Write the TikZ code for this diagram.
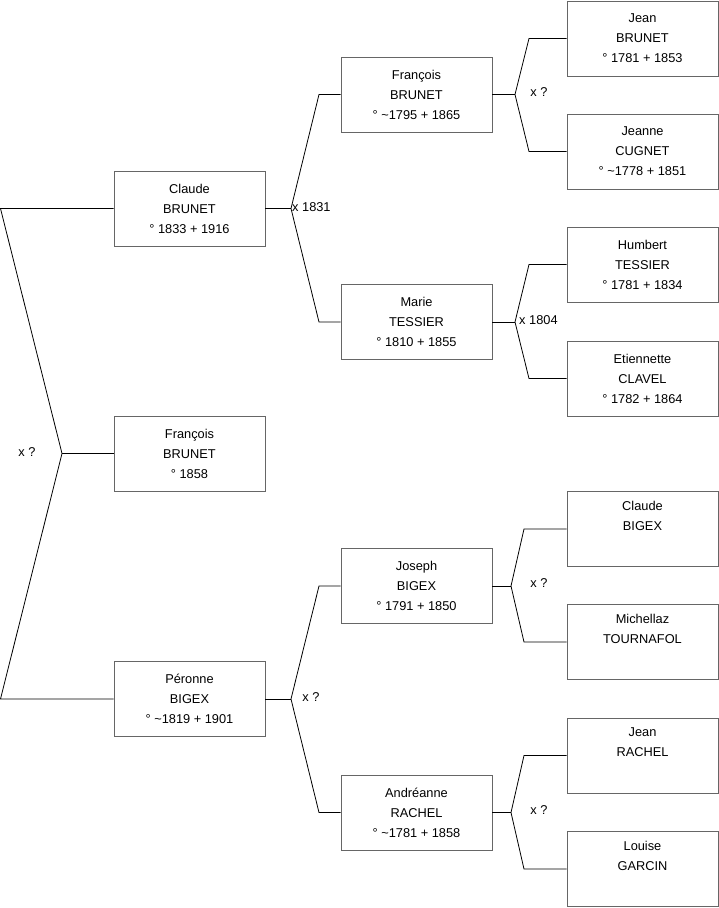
\documentclass[tikz,border=0pt]{standalone}
\usepackage{fontspec}
\setmainfont{Liberation Sans}
\usepackage{tikz}

\tikzset{
  person/.style={draw=black!60, line width=0.9pt, minimum width=151pt, minimum height=75pt,
    inner sep=0pt, align=center, font=\fontsize{12.8}{20}\selectfont},
  link/.style={line width=0.8pt},
  wed/.style={font=\fontsize{12.8}{14}\selectfont, inner sep=1pt}
}

\begin{document}
\begin{tikzpicture}[x=1pt, y=-1pt]
\useasboundingbox (0,0) rectangle (719,908);
% generation 1
\node[person] (claude) at (189.5,208.5) {Claude\\BRUNET\\° 1833 + 1916};
\node[person] (francois) at (189.5,453.5) {François\\BRUNET\\° 1858};
\node[person] (peronne) at (189.5,699) {Péronne\\BIGEX\\° \textasciitilde1819 + 1901};
% generation 2
\node[person] (francoisb) at (416.5,94.5) {François\\BRUNET\\° \textasciitilde1795 + 1865};
\node[person] (marie) at (416.5,322) {Marie\\TESSIER\\° 1810 + 1855};
\node[person] (joseph) at (416.5,586) {Joseph\\BIGEX\\° 1791 + 1850};
\node[person] (andreanne) at (416.5,812.5) {Andréanne\\RACHEL\\° \textasciitilde1781 + 1858};
% generation 3
\node[person] (jean) at (642.5,38.5) {Jean\\BRUNET\\° 1781 + 1853};
\node[person] (jeanne) at (642.5,151.5) {Jeanne\\CUGNET\\° \textasciitilde1778 + 1851};
\node[person] (humbert) at (642.5,264.5) {Humbert\\TESSIER\\° 1781 + 1834};
\node[person] (etiennette) at (642.5,378.5) {Etiennette\\CLAVEL\\° 1782 + 1864};
\node[person] (claudeb) at (642.5,529) {Claude\\BIGEX\\\strut};
\node[person] (michellaz) at (642.5,642) {Michellaz\\TOURNAFOL\\\strut};
\node[person] (jeanr) at (642.5,755.5) {Jean\\RACHEL\\\strut};
\node[person] (louise) at (642.5,869) {Louise\\GARCIN\\\strut};

% couple of generation 1
\coordinate (c0a) at (0.5,208.5);
\coordinate (c0) at (62,453.5);
\coordinate (c0b) at (0.5,699);
\draw[link] (claude.west) -- (c0a) -- (c0) -- (c0b) -- (peronne.west);
\draw[link] (c0) -- (francois.west);
\node[wed] (w0) at (27,452) {x ?};

% couples of generation 2
\coordinate (c1) at (291,208.5);
\draw[link] (claude.east) -- (c1);
\draw[link] (francoisb.west) -- (319,94.5) -- (c1) -- (319,322) -- (marie.west);
\node[wed, anchor=west] (w1) at (291,207) {x 1831};

\coordinate (c2) at (291,699);
\draw[link] (peronne.east) -- (c2);
\draw[link] (joseph.west) -- (319,586) -- (c2) -- (319,812.5) -- (andreanne.west);
\node[wed] (w2) at (311,697) {x ?};

% couples of generation 3
\coordinate (c3) at (515,94.5);
\draw[link] (francoisb.east) -- (c3);
\draw[link] (jean.west) -- (529,38.5) -- (c3) -- (529,151.5) -- (jeanne.west);
\node[wed] (w3) at (539,92) {x ?};

\coordinate (c4) at (515,322);
\draw[link] (marie.east) -- (c4);
\draw[link] (humbert.west) -- (529,264.5) -- (c4) -- (529,378.5) -- (etiennette.west);
\node[wed, anchor=west] (w4) at (518,320) {x 1804};

\coordinate (c5) at (511,586);
\draw[link] (joseph.east) -- (c5);
\draw[link] (claudeb.west) -- (524,529) -- (c5) -- (524,642) -- (michellaz.west);
\node[wed] (w5) at (539,583) {x ?};

\coordinate (c6) at (511,812.5);
\draw[link] (andreanne.east) -- (c6);
\draw[link] (jeanr.west) -- (524,755.5) -- (c6) -- (524,869) -- (louise.west);
\node[wed] (w6) at (539,810) {x ?};
\end{tikzpicture}
\end{document}
